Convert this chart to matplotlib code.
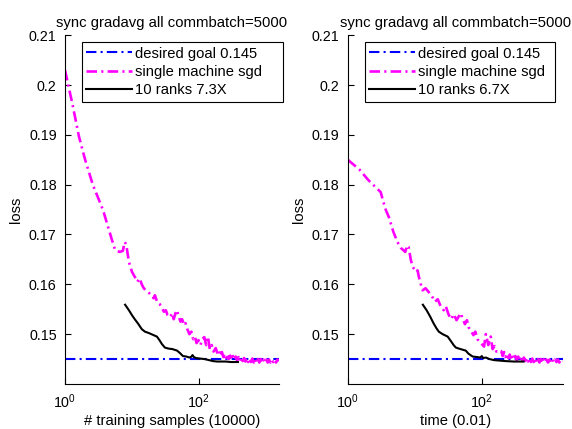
import numpy as np
import matplotlib
matplotlib.use("Agg")
from matplotlib import pyplot as plt

plt.rcParams['font.family'] = ['Liberation Sans', 'DejaVu Sans']
plt.rcParams['font.size'] = 10
plt.rcParams['mathtext.default'] = 'regular'

title = "sync gradavg all commbatch=5000"
goal = 0.145

# left panel: loss vs # training samples
samples_sgd_x = [1, 1.3, 1.62, 2.0, 2.6, 3.2, 3.7, 4.4, 5.0, 5.6, 6.5, 7.3, 7.8, 8.2, 9.0, 10, 11, 12, 13,
                 14, 15, 17, 19, 21, 22, 24, 26, 28, 30, 32, 34, 37, 40, 42, 45, 47, 50, 53, 56, 60, 63,
                 67, 72, 77, 82, 87, 92, 98, 105, 112, 120, 128, 136, 145, 155, 165, 178, 190,
                 200, 210, 220, 231, 242, 254, 266, 279, 293, 307, 322, 338, 354, 371, 389, 408, 428,
                 449, 471, 494, 518, 543, 570, 598, 627, 658, 690, 724, 759, 796, 835, 876, 919, 964,
                 1011, 1060, 1112, 1166, 1223, 1283, 1346, 1412, 1481, 1560]
samples_sgd_y = [0.2030, 0.1960, 0.1896, 0.1850, 0.1800, 0.1770, 0.1749, 0.1715, 0.1690, 0.1669, 0.1665,
                 0.1667, 0.1685, 0.1680, 0.1645, 0.1625, 0.1615, 0.1605, 0.1612, 0.1600, 0.1592, 0.1585,
                 0.1580, 0.1572, 0.1578, 0.1563, 0.1560, 0.1552, 0.1545, 0.1548, 0.1538, 0.1534, 0.1542,
                 0.1530, 0.1544, 0.1548, 0.1535, 0.1525, 0.1530, 0.1518, 0.1522, 0.1510, 0.1500, 0.1505,
                 0.1490, 0.1495, 0.1482, 0.1488, 0.1478, 0.1490, 0.1494, 0.1478, 0.1495, 0.1470, 0.1478,
                 0.1465, 0.1472, 0.1460,
                 0.1466, 0.1456, 0.1464, 0.1454, 0.1461, 0.1452, 0.1459, 0.1450, 0.1457, 0.1449, 0.1456,
                 0.1448, 0.1455, 0.1447, 0.1454, 0.1446, 0.1453, 0.1446, 0.1452, 0.1445, 0.1452, 0.1444,
                 0.1451, 0.1444, 0.1451, 0.1443, 0.1450, 0.1443, 0.1450, 0.1443, 0.1450, 0.1443, 0.1449,
                 0.1443, 0.1449, 0.1443, 0.1449, 0.1443, 0.1449, 0.1444, 0.1449, 0.1443, 0.1449, 0.1446]
samples_ranks_x = [7.9, 9, 10, 11, 12.5, 14, 15.6, 18, 21, 23.6, 26, 28, 31, 35, 40, 47, 52, 57.6, 65, 72,
                   78, 80, 84, 90, 103, 120, 140, 160, 186, 250, 300, 381]
samples_ranks_y = [0.1559, 0.1548, 0.1538, 0.1530, 0.1520, 0.1510, 0.1505, 0.1502, 0.1498, 0.1495, 0.1487,
                   0.1480, 0.1473, 0.1471, 0.1470, 0.1467, 0.1462, 0.1456, 0.1455, 0.1453, 0.1455, 0.1458,
                   0.1454, 0.1452, 0.1451, 0.1450, 0.1448, 0.1446, 0.1445, 0.1445, 0.1444, 0.1444]

# right panel: loss vs time
time_sgd_x = [1, 1.5, 2.0, 2.6, 3.1, 3.4, 3.7, 4.1, 4.8, 5.5, 6.2, 7.2, 7.7, 8.1, 8.7, 9.3, 10.5, 11.0,
              11.5, 12.3, 13.1, 14.5, 16, 18.6, 20, 22, 24.5, 27, 29, 32, 35, 38, 42, 45, 48.7, 52, 56,
              60, 64, 70, 75, 80, 87, 93, 100, 108, 115, 125, 136, 145, 155, 165, 180,
              195, 205, 215, 226, 237, 249, 261, 274, 288, 302, 317, 333, 350, 367, 385, 404, 424,
              445, 467, 490, 515, 541, 568, 596, 626, 657, 690, 725, 761, 799, 839, 881, 925, 971,
              1020, 1071, 1124, 1180, 1239, 1301, 1366, 1434, 1506, 1620]
time_sgd_y = [0.1850, 0.1830, 0.1810, 0.1795, 0.1785, 0.1765, 0.1749, 0.1735, 0.1705, 0.1685, 0.1673,
              0.1665, 0.1678, 0.1675, 0.1650, 0.1635, 0.1625, 0.1628, 0.1615, 0.1600, 0.1588, 0.1592,
              0.1585, 0.1573, 0.1565, 0.1570, 0.1555, 0.1548, 0.1556, 0.1539, 0.1530, 0.1540, 0.1528,
              0.1535, 0.1542, 0.1530, 0.1520, 0.1528, 0.1513, 0.1505, 0.1498, 0.1505, 0.1489, 0.1485,
              0.1480, 0.1475, 0.1500, 0.1478, 0.1495, 0.1470, 0.1476, 0.1465, 0.1468,
              0.1466, 0.1456, 0.1464, 0.1454, 0.1461, 0.1452, 0.1459, 0.1450, 0.1457, 0.1449, 0.1456,
              0.1448, 0.1455, 0.1447, 0.1454, 0.1446, 0.1453, 0.1446, 0.1452, 0.1445, 0.1452, 0.1444,
              0.1451, 0.1444, 0.1451, 0.1443, 0.1450, 0.1443, 0.1450, 0.1443, 0.1450, 0.1443, 0.1449,
              0.1443, 0.1449, 0.1443, 0.1449, 0.1443, 0.1449, 0.1444, 0.1449, 0.1443, 0.1449, 0.1446]
time_ranks_x = [13.2, 15, 17, 19, 21, 22.8, 26, 31, 35, 38, 41, 48, 57.5, 63, 73, 85, 95, 100, 105, 115,
                130, 150, 180, 220, 300, 420]
time_ranks_y = [0.1559, 0.1548, 0.1535, 0.1522, 0.1512, 0.1505, 0.1500, 0.1495, 0.1485, 0.1478, 0.1473,
                0.1470, 0.1467, 0.1461, 0.1455, 0.1454, 0.1453, 0.1456, 0.1452, 0.1453, 0.1450, 0.1448,
                0.1447, 0.1446, 0.1445, 0.1445]

panels = [
    (samples_sgd_x, samples_sgd_y, samples_ranks_x, samples_ranks_y,
     "10 ranks 7.3X", "# training samples (10000)", [0.1136, 0.105, 0.374, 0.813], 0.939),
    (time_sgd_x, time_sgd_y, time_ranks_x, time_ranks_y,
     "10 ranks 6.7X", "time (0.01)", [0.608, 0.105, 0.376, 0.813], 0.884),
]

dashdot = (0, (5, 2, 1, 2))
dashdot_thick = (0, (4, 1.6, 0.8, 1.6))

fig = plt.figure(figsize=(5.72, 4.29), dpi=100)
for sx, sy, rx, ry, rlabel, xlabel, pos, legw in panels:
    ax = fig.add_axes(pos)
    ax.plot([sx[0], sx[-1]], [goal, goal], color="blue", lw=1.5, linestyle=dashdot,
            label="desired goal 0.145")
    ax.plot(sx, sy, color="magenta", lw=1.9, linestyle=dashdot_thick, label="single machine sgd")
    ax.plot(rx, ry, color="black", lw=1.5, label=rlabel)
    ax.set_xscale("log")
    ax.set_xlim(sx[0], sx[-1])
    ax.set_ylim(0.14, 0.21)
    ax.set_xticks([1, 100])
    ax.set_xticklabels(["$10^0$", "$10^2$"])
    ax.xaxis.set_minor_locator(matplotlib.ticker.NullLocator())
    ax.set_yticks([0.15, 0.16, 0.17, 0.18, 0.19, 0.2, 0.21])
    ax.set_yticklabels(["0.15", "0.16", "0.17", "0.18", "0.19", "0.2", "0.21"])
    ax.tick_params(direction="in", length=4, width=0.8, pad=6, labelsize=10.3)
    ax.spines["top"].set_visible(False)
    ax.spines["right"].set_visible(False)
    ax.set_title(title, fontsize=10.7, pad=6)
    ax.set_xlabel(xlabel, labelpad=2, fontsize=10.6)
    ax.set_ylabel("loss", labelpad=4, fontsize=10.6)
    leg = ax.legend(loc="upper left", bbox_to_anchor=(0.079, 0.98, legw, 0.0), mode="expand",
                    borderaxespad=0, fancybox=False, framealpha=1, edgecolor="black",
                    handlelength=3.1, handletextpad=0.2, labelspacing=0.3, borderpad=0.3,
                    fontsize=10.6)
    leg.get_frame().set_linewidth(0.8)

fig.savefig("out.png", dpi=100)
